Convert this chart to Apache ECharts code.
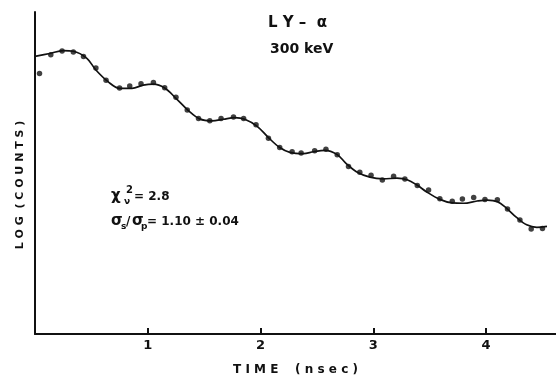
<!DOCTYPE html>
<html>
<head>
<meta charset="utf-8">
<script src="https://cdn.jsdelivr.net/npm/echarts@6/dist/echarts.min.js"></script>
<style>
  html, body { margin: 0; padding: 0; background: #fff; overflow: hidden; }
  #main { width: 556px; height: 381px; }
</style>
</head>
<body>
<div id="main"></div>
<script>
// measured points (time in nsec, log counts in arbitrary units)
var dotTime = [0.04, 0.14, 0.24, 0.34, 0.43, 0.54, 0.63, 0.75, 0.84, 0.94,
  1.05, 1.15, 1.25, 1.35, 1.45, 1.55, 1.65, 1.76, 1.85, 1.96,
  2.07, 2.17, 2.28, 2.36, 2.48, 2.58, 2.68, 2.78, 2.88, 2.98,
  3.08, 3.18, 3.28, 3.39, 3.49, 3.59, 3.70, 3.79, 3.89, 3.99,
  4.10, 4.19, 4.30, 4.40, 4.50];
var dotLog = [8.09, 8.67, 8.79, 8.76, 8.62, 8.26, 7.88, 7.64, 7.70, 7.77,
  7.81, 7.65, 7.35, 6.96, 6.69, 6.62, 6.69, 6.74, 6.69, 6.50,
  6.08, 5.79, 5.66, 5.62, 5.69, 5.74, 5.57, 5.20, 5.02, 4.93,
  4.78, 4.90, 4.81, 4.61, 4.47, 4.20, 4.12, 4.19, 4.24, 4.18,
  4.17, 3.88, 3.54, 3.26, 3.28];

// fitted curve
var fitTime = [0.00, 0.13, 0.25, 0.34, 0.46, 0.54, 0.65, 0.75, 0.86, 0.96,
  1.05, 1.15, 1.25, 1.36, 1.46, 1.57, 1.67, 1.77, 1.86, 1.97,
  2.07, 2.17, 2.26, 2.38, 2.47, 2.57, 2.68, 2.76, 2.85, 2.97,
  3.09, 3.21, 3.30, 3.39, 3.47, 3.59, 3.70, 3.80, 3.92, 4.01,
  4.10, 4.18, 4.27, 4.36, 4.45, 4.54];
var fitLog = [8.62, 8.71, 8.80, 8.78, 8.56, 8.20, 7.83, 7.63, 7.63, 7.73,
  7.76, 7.64, 7.32, 6.94, 6.68, 6.62, 6.67, 6.72, 6.67, 6.45,
  6.10, 5.79, 5.64, 5.60, 5.66, 5.70, 5.57, 5.29, 5.04, 4.87,
  4.82, 4.84, 4.79, 4.62, 4.42, 4.18, 4.07, 4.06, 4.13, 4.16,
  4.11, 3.91, 3.62, 3.39, 3.31, 3.34];

var tickLabels = ['1', '2', '3', '4'];

var font = 'DejaVu Sans';
var ink = '#111';

var chart = echarts.init(document.getElementById('main'));

var dots = dotTime.map(function (t, i) { return [t, dotLog[i]]; });
var fit = fitTime.map(function (t, i) { return [t, fitLog[i]]; });

var option = {
  animation: false,
  backgroundColor: '#fff',
  grid: { left: 35, right: 0, top: 12, bottom: 41 },
  xAxis: {
    type: 'value',
    min: 0,
    max: 4.62,
    interval: 1,
    name: 'T I M E    ( n s e c )',
    nameLocation: 'middle',
    nameGap: 30,
    nameTextStyle: { color: ink, fontFamily: font, fontWeight: 'bold', fontSize: 12 },
    axisLine: { onZero: false, lineStyle: { color: ink, width: 2 } },
    axisTick: { inside: true, length: 6, lineStyle: { color: ink, width: 2 } },
    axisLabel: {
      color: ink, fontFamily: font, fontWeight: 'bold', fontSize: 13, margin: 5,
      showMaxLabel: false,
      formatter: function (v) {
        var k = tickLabels.indexOf(String(v));
        return k >= 0 ? tickLabels[k] : '';
      }
    },
    splitLine: { show: false }
  },
  yAxis: {
    type: 'value',
    min: 0,
    max: 10,
    axisLine: { show: true, lineStyle: { color: ink, width: 2 } },
    axisTick: { show: false },
    axisLabel: { show: false },
    splitLine: { show: false }
  },
  graphic: [
    { type: 'text', x: 20, y: 185, rotation: Math.PI / 2,
      style: { text: 'L O G  ( C O U N T S )', fill: ink, font: 'bold 11px "DejaVu Sans"', align: 'center', verticalAlign: 'middle' } },
    { type: 'text', left: 268, top: 16, style: { text: 'L Y –  α', fill: ink, font: 'bold 15px "DejaVu Sans"' } },
    { type: 'text', left: 270, top: 42, style: { text: '300 keV', fill: ink, font: 'bold 14px "DejaVu Sans"' } },
    { type: 'text', left: 111, top: 189, style: { text: 'χ', fill: ink, font: 'bold 15px "DejaVu Sans"' } },
    { type: 'text', left: 126, top: 185, style: { text: '2', fill: ink, font: 'bold 10px "DejaVu Sans"' } },
    { type: 'text', left: 124, top: 197, style: { text: 'ν', fill: ink, font: 'bold 9px "DejaVu Sans"' } },
    { type: 'text', left: 134, top: 191, style: { text: '= 2.8', fill: ink, font: 'bold 12px "DejaVu Sans"' } },
    { type: 'text', left: 111, top: 214, style: { text: 'σ', fill: ink, font: 'bold 15px "DejaVu Sans"' } },
    { type: 'text', left: 121, top: 222, style: { text: 's', fill: ink, font: 'bold 9px "DejaVu Sans"' } },
    { type: 'text', left: 126, top: 216, style: { text: '/', fill: ink, font: 'bold 12px "DejaVu Sans"' } },
    { type: 'text', left: 132, top: 214, style: { text: 'σ', fill: ink, font: 'bold 15px "DejaVu Sans"' } },
    { type: 'text', left: 141, top: 222, style: { text: 'p', fill: ink, font: 'bold 9px "DejaVu Sans"' } },
    { type: 'text', left: 147, top: 216, style: { text: '= 1.10 ± 0.04', fill: ink, font: 'bold 12px "DejaVu Sans"' } }
  ],
  series: [
    {
      name: 'fit',
      type: 'line',
      data: fit,
      smooth: 0.35,
      showSymbol: false,
      lineStyle: { color: ink, width: 1.7 },
      z: 2
    },
    {
      name: 'data',
      type: 'scatter',
      data: dots,
      symbolSize: 5.5,
      itemStyle: { color: ink },
      z: 3
    }
  ]
};

chart.setOption(option);
</script>
</body>
</html>
